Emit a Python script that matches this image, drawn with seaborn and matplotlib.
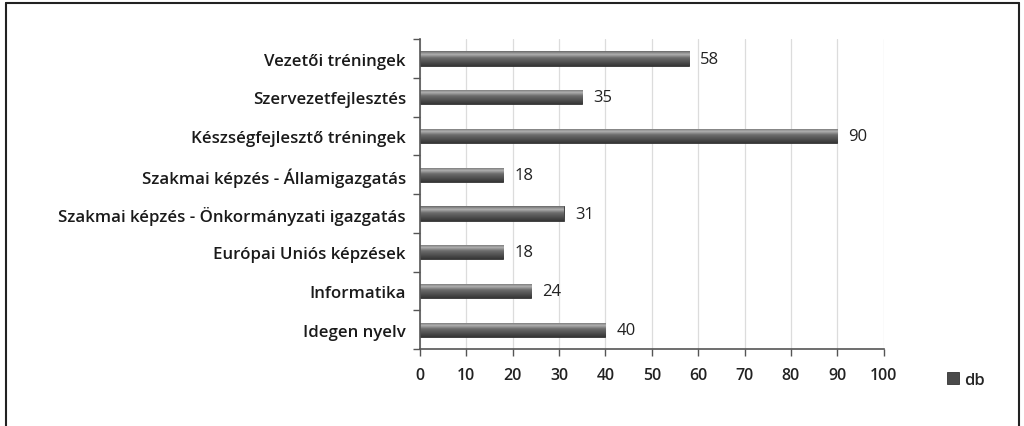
import numpy as np
import pandas as pd
import seaborn as sns
import matplotlib.pyplot as plt
from matplotlib.colors import LinearSegmentedColormap
from matplotlib.lines import Line2D

# képzési kategóriák és darabszámok
kategoriak = ['Vezetői tréningek', 'Szervezetfejlesztés', 'Készségfejlesztő tréningek',
              'Szakmai képzés - Államigazgatás', 'Szakmai képzés - Önkormányzati igazgatás',
              'Európai Uniós képzések', 'Informatika', 'Idegen nyelv']
db = [58, 35, 90, 18, 31, 18, 24, 40]
x_ticks = [0, 10, 20, 30, 40, 50, 60, 70, 80, 90, 100]

df = pd.DataFrame({'kategoria': kategoriak, 'db': db})

sns.set_theme(style='white')
plt.rcParams['font.family'] = ['Open Sans', 'DejaVu Sans']

fig = plt.figure(figsize=(10.24, 4.27), dpi=100)
ax = fig.add_axes([0.41, 0.18, 0.453, 0.726])

sns.barplot(data=df, y='kategoria', x='db', orient='h', color='#4a4a4a',
            width=0.37, edgecolor='#333333', linewidth=0.6, label='db', ax=ax)

# hengeres hatás: függőleges színátmenet a sávokon
grad = LinearSegmentedColormap.from_list(
    'henger', [(0, '#6a6a6a'), (0.22, '#b0b0b0'), (0.45, '#6c6c6c'), (1, '#363636')])
yl = ax.get_ylim()
for p in ax.patches:
    x0, y0 = p.get_x(), p.get_y()
    x1, y1 = x0 + p.get_width(), y0 + p.get_height()
    im = ax.imshow(np.linspace(0, 1, 64).reshape(-1, 1), cmap=grad, aspect='auto',
                   extent=(x0, x1, max(y0, y1), min(y0, y1)), origin='upper', zorder=p.get_zorder() + 0.1)
    im.set_clip_path(p)
ax.set_xlim(0, 100)
ax.set_ylim(yl)

ax.bar_label(ax.containers[0], padding=8, fontsize=12, color='#222222')

ax.set_xticks(x_ticks)
ax.set_xticklabels([str(t) for t in x_ticks], fontsize=11.5, fontweight='semibold', color='#222222')
ax.tick_params(axis='x', direction='out', length=5, width=1, color='#555555', pad=8, bottom=True)
ax.set_yticks(range(len(kategoriak)))
ax.set_yticklabels(kategoriak, fontsize=12.2, fontweight='semibold', color='#1a1a1a')
ax.tick_params(axis='y', length=0, pad=10)
ax.set_yticks(np.arange(-0.5, len(kategoriak), 1), minor=True)
ax.tick_params(axis='y', which='minor', direction='out', length=5, width=1, color='#555555', left=True)
ax.set_xlabel('')
ax.set_ylabel('')

ax.grid(axis='x', color='#dcdcdc', linewidth=0.9)
ax.set_axisbelow(True)
for s in ['top', 'right']:
    ax.spines[s].set_visible(False)
for s in ['left', 'bottom']:
    ax.spines[s].set_color('#555555')
    ax.spines[s].set_linewidth(1.2)

ax.legend(loc='center left', bbox_to_anchor=(932 / 1024, 1 - 381 / 427), bbox_transform=fig.transFigure,
          frameon=False, handlelength=0.7, handleheight=0.7, handletextpad=0.3,
          prop={'size': 12, 'weight': 'semibold'})

# a kép körüli keret (alul nincs)
for xs, ys in [((0.006, 0.006), (0, 0.99)), ((0.006, 0.995), (0.99, 0.99)), ((0.995, 0.995), (0.99, 0))]:
    fig.add_artist(Line2D(xs, ys, color='#222222', linewidth=1.5, transform=fig.transFigure))

fig.savefig('out.png', dpi=100)
